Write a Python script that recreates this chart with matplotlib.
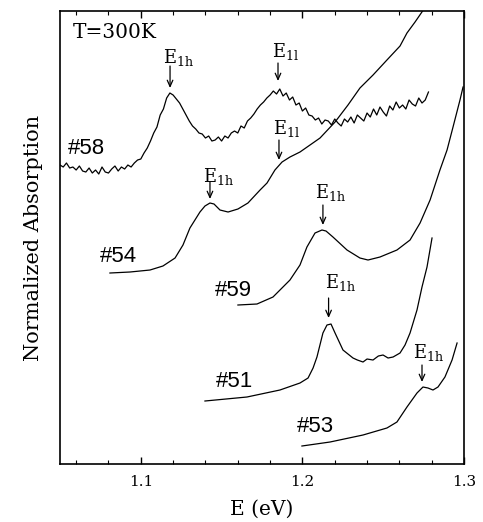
import numpy as np
import matplotlib
matplotlib.use('Agg')
import matplotlib.pyplot as plt
from matplotlib.ticker import MultipleLocator

plt.rcParams['font.family'] = ['DejaVu Serif']
plt.rcParams['mathtext.fontset'] = 'dejavuserif'

# sample #58 (noisy), y in arbitrary units
y58 = [299, 297, 301, 296, 297, 294, 298, 293, 292, 296, 291, 294, 290, 297, 292, 291,
       295, 298, 293, 297, 295, 299, 297, 301, 304,
       305, 311, 316, 323, 331, 337, 349, 355, 366, 371, 369, 365, 361, 355, 349, 343,
       338, 335, 331, 330, 326, 328, 323, 324, 327, 323, 328, 326, 331, 333, 331, 338,
       336, 343, 346, 350, 355, 359, 362, 366, 369, 373, 370, 375, 368, 371, 364, 367,
       359, 361,
       353, 356, 349, 348, 344, 346, 340, 344, 343, 339, 345, 341, 338, 345, 342, 347,
       341, 349, 346, 343, 351, 347, 355, 349, 357, 352, 348, 358, 354, 362, 356, 359,
       355, 364, 360, 358, 366, 361, 364, 372]
E58 = np.linspace(1.05, 1.278, len(y58))

E54 = [1.0809, 1.0933, 1.1057, 1.1137, 1.1212, 1.1261, 1.1304, 1.1366, 1.1397, 1.1428,
       1.1453, 1.1490, 1.1540, 1.1601, 1.1663, 1.1738, 1.1781, 1.1830, 1.1874, 1.1923,
       1.1985, 1.2047, 1.2109, 1.2202, 1.2282, 1.2356, 1.2437, 1.2523, 1.2604, 1.2647,
       1.2697, 1.2765]
y54 = [191, 192, 194, 198, 206, 219, 236, 252, 258, 261,
       260, 254, 252, 255, 261, 274, 281, 294, 302, 307,
       312, 319, 326, 342, 359, 376, 389, 404, 418, 431,
       442, 458]

E59 = [1.1601, 1.1719, 1.1818, 1.1923, 1.1985, 1.2028, 1.2078, 1.2121, 1.2146, 1.2189,
       1.2276, 1.2356, 1.2406, 1.2480, 1.2585, 1.2666, 1.2728, 1.2790, 1.2851, 1.2895,
       1.2932, 1.2975, 1.2994]
y59 = [159, 160, 167, 184, 199, 217, 231, 234, 233, 227,
       214, 206, 204, 207, 214, 224, 241, 264, 294, 314,
       337, 364, 377]

E51 = [1.1397, 1.1657, 1.1861, 1.1985, 1.2035, 1.2066, 1.2090, 1.2127, 1.2152, 1.2177,
       1.2202, 1.2251, 1.2313, 1.2340, 1.2375, 1.2400, 1.2437, 1.2470, 1.2499, 1.2530,
       1.2561, 1.2604, 1.2635, 1.2666, 1.2709, 1.2740, 1.2771, 1.2802]
y51 = [63, 67, 74, 81, 86, 96, 107, 131, 139, 140,
       131, 114, 106, 104, 102, 105, 104, 108, 109, 106,
       107, 111, 119, 131, 154, 177, 197, 226]

E53 = [1.1997, 1.2171, 1.2375, 1.2523, 1.2585, 1.2647, 1.2709, 1.2746, 1.2777, 1.2808,
       1.2839, 1.2882, 1.2926, 1.2957]
y53 = [18, 22, 29, 36, 42, 57, 71, 77, 76, 74,
       77, 87, 104, 121]

# sample names and label positions
names = ['#58', '#54', '#59', '#51', '#53']
name_E = [1.0661, 1.0862, 1.1574, 1.1580, 1.2078]
name_y = [316, 208, 174, 83, 38]

# arrows: x, tail y, tip y, text, text x, text baseline
arr_E = [1.1181, 1.1849, 1.1428, 1.1855, 1.2127, 1.2162, 1.2740]
arr_tail = [398, 401, 282, 324, 259, 166, 99]
arr_tip = [376, 383, 265, 304, 239, 146, 82]
arr_txt = ['1h', '1l', '1h', '1l', '1h', '1h', '1h']
txt_E = [1.1137, 1.1812, 1.1385, 1.1818, 1.2078, 1.2140, 1.2684]
txt_y = [401, 407, 282, 330, 266, 176, 106]

fig = plt.figure(figsize=(4.83, 5.22), dpi=100)
ax = fig.add_axes([0.1242, 0.1111, 0.8365, 0.8678])

for E, y in [(E58, y58), (E54, y54), (E59, y59), (E51, y51), (E53, y53)]:
    ax.plot(E, y, color='black', lw=0.9)

for n, x, y in zip(names, name_E, name_y):
    ax.text(x, y, n, family='Liberation Sans', fontsize=16, ha='center', va='center')

for i in range(len(arr_E)):
    ax.annotate('', xy=(arr_E[i], arr_tip[i]), xytext=(arr_E[i], arr_tail[i]),
                arrowprops=dict(arrowstyle='->,head_length=0.45,head_width=0.2', lw=0.9, color='black',
                                shrinkA=0, shrinkB=0))
    ax.text(txt_E[i], txt_y[i], r'$\mathrm{E_{%s}}$' % arr_txt[i], fontsize=13, ha='left', va='baseline')

ax.text(1.058, 432, 'T=300K', fontsize=14.5, ha='left', va='center')

ax.set_xlim(1.05, 1.3)
ax.set_ylim(0, 453)
ax.xaxis.set_major_locator(MultipleLocator(0.1))
ax.xaxis.set_minor_locator(MultipleLocator(0.02))
ax.tick_params(axis='x', which='both', direction='in', top=True, labelsize=11, pad=8)
ax.tick_params(axis='x', which='major', length=5, width=1)
ax.tick_params(axis='x', which='minor', length=3, width=0.8)
ax.set_yticks([])
for s in ax.spines.values():
    s.set_linewidth(1.2)

ax.set_xlabel('E (eV)', fontsize=14.5, labelpad=8)
ax.set_ylabel('Normalized Absorption', fontsize=15, labelpad=12)

plt.savefig('out.png', dpi=100)
